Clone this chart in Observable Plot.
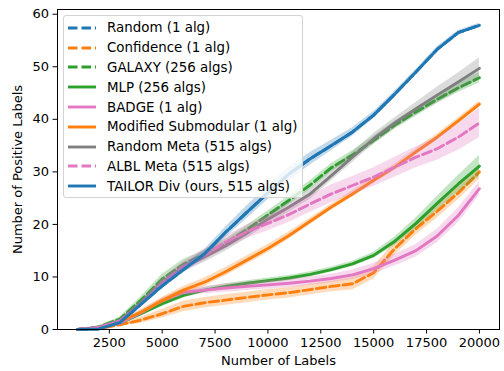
<!DOCTYPE html>
<html><head><meta charset="utf-8">
<script src="https://cdn.jsdelivr.net/npm/d3@7"></script>
<script src="https://cdn.jsdelivr.net/npm/@observablehq/plot@0.6"></script>
<style>
body{margin:0;background:#fff;font-family:"DejaVu Sans",sans-serif;}
#wrap{position:relative;width:504px;height:371px;}
#legend{position:absolute;left:63px;top:15px;width:240px;height:183px;box-sizing:border-box;border:1px solid #d3d3d3;border-radius:3px;background:rgba(255,255,255,0.8);font-size:13.4px;color:#000;}
.row{position:absolute;left:0;height:20px;display:flex;align-items:center;white-space:nowrap;}
.row svg{margin-left:4px;margin-right:11px;}
</style></head><body><div id="wrap"></div>
<script>
const labels = [1000,2000,3000,4000,5000,6000,7000,8000,9000,10000,11000,12000,13000,14000,15000,16000,17000,18000,19000,20000];
const xTicks = [2500,5000,7500,10000,12500,15000,17500,20000];
const yTicks = [0,10,20,30,40,50,60];

const tailor      = [0,0.1,1.3,4.8,8.3,11.4,14.4,18.5,22.3,26.0,29.6,32.5,35.0,37.6,40.8,44.8,49.0,53.3,56.5,57.9];
const tailorErr   = [0,0.1,0.3,0.5,0.6,0.7,0.8,1.0,1.2,1.3,1.3,1.2,1.0,0.8,0.7,0.6,0.5,0.5,0.4,0.4];
const randomAlg   = [0,0.1,1.3,4.8,8.3,11.4,14.4,18.5,22.3,26.0,29.6,32.5,35.0,37.6,40.8,44.8,49.0,53.3,56.5,57.9];
const randomErr   = [0,0,0,0,0,0,0,0,0,0,0,0,0,0,0,0,0,0,0,0];
const galaxy      = [0,0.5,2.0,5.6,9.6,12.4,14.3,16.4,19.0,21.8,24.6,27.5,30.8,33.2,36.0,38.9,41.4,43.8,46.0,47.9];
const galaxyErr   = [0,0.2,0.4,0.7,0.9,0.9,0.8,0.8,0.8,0.8,0.8,0.8,0.8,0.8,0.8,0.8,0.8,0.8,0.9,1.0];
const randMeta    = [0,0.4,1.6,5.0,9.0,11.8,13.8,15.9,18.3,21.0,23.3,25.8,29.3,32.8,36.3,39.3,42.0,44.6,47.1,49.7];
const randMetaErr = [0,0.1,0.3,0.6,0.8,0.9,1.0,1.0,1.0,1.0,1.0,1.0,1.0,1.0,1.0,1.0,1.2,1.5,1.7,2.0];
const albl        = [0,0.4,1.6,4.8,8.8,12.0,14.2,16.6,18.6,20.2,21.9,23.9,25.8,27.4,29.0,30.9,32.8,34.4,36.6,39.3];
const alblErr     = [0,0.2,0.4,0.6,0.8,1.0,1.1,1.2,1.3,1.4,1.5,1.6,1.7,1.7,1.8,1.9,2.0,2.2,2.5,2.8];
const modSub      = [0,0.3,1.5,3.3,5.5,7.5,9.0,11.0,13.2,15.4,17.9,20.6,23.3,25.8,28.4,30.9,33.8,36.6,39.7,42.9];
const modSubErr   = [0,0.1,0.3,0.5,0.6,0.7,0.8,0.8,0.8,0.8,0.7,0.6,0.6,0.6,0.6,0.6,0.6,0.6,0.6,0.6];
const mlp         = [0,0.3,1.2,3.0,4.9,6.5,7.5,8.2,8.8,9.3,9.8,10.5,11.4,12.5,14.1,16.8,20.2,24.0,27.7,31.1];
const mlpErr      = [0,0.1,0.2,0.4,0.5,0.5,0.5,0.5,0.5,0.5,0.5,0.5,0.5,0.5,0.6,0.8,1.0,1.3,1.6,2.0];
const badge       = [0,0.3,1.2,3.2,5.5,7.1,7.5,7.9,8.2,8.5,8.8,9.2,9.7,10.4,11.6,13.2,15.0,17.8,21.7,26.8];
const badgeErr    = [0,0.1,0.2,0.4,0.5,0.6,0.7,0.8,0.8,0.8,0.8,0.8,0.8,0.9,1.0,1.1,1.2,1.3,1.4,1.3];
const confidence  = [0,0.2,0.9,1.8,3.0,4.4,5.1,5.6,6.1,6.6,7.0,7.6,8.2,8.7,10.8,15.4,19.2,22.5,26.0,30.0];
const confErr     = [0,0.1,0.3,0.6,0.8,1.0,1.0,1.0,1.0,1.0,1.0,1.0,1.0,1.2,1.2,1.2,1.2,1.3,1.3,1.4];

const names  = ["Random (1 alg)","Confidence (1 alg)","GALAXY (256 algs)","MLP (256 algs)","BADGE (1 alg)","Modified Submodular (1 alg)","Random Meta (515 algs)","ALBL Meta (515 algs)","TAILOR Div (ours, 515 algs)"];
const colors = ["#1f77b4","#ff7f0e","#2ca02c","#2ca02c","#e377c2","#ff7f0e","#7f7f7f","#e377c2","#1f77b4"];
const dashed = [true,true,true,false,false,false,false,true,false];
const values = [randomAlg,confidence,galaxy,mlp,badge,modSub,randMeta,albl,tailor];
const errs   = [randomErr,confErr,galaxyErr,mlpErr,badgeErr,modSubErr,randMetaErr,alblErr,tailorErr];

const DASH = "9.5,4";
const LW = 2.9;
const marks = [];
names.forEach((name, k) => {
  const rows = labels.map((x, i) => ({x, y: values[k][i], lo: Math.max(0, values[k][i] - errs[k][i]), hi: values[k][i] + errs[k][i]}));
  if (errs[k].some(e => e > 0)) marks.push(Plot.areaY(rows, {x: "x", y1: "lo", y2: "hi", fill: colors[k], fillOpacity: 0.28}));
  marks.push(Plot.line(rows, {x: "x", y: "y", stroke: colors[k], strokeWidth: LW, strokeDasharray: dashed[k] ? DASH : null}));
});

const chart = Plot.plot({
  width: 504, height: 371,
  marginLeft: 57, marginRight: 5, marginTop: 9, marginBottom: 42,
  style: {fontFamily: "DejaVu Sans", fontSize: "13px", background: "#fff", color: "#000"},
  x: {domain: [50, 20950]},
  y: {domain: [0, 60.9]},
  marks: [
    ...marks,
    Plot.frame({stroke: "#000", strokeWidth: 1}),
    Plot.axisX({ticks: xTicks, tickFormat: d => String(d), tickSize: 4.5, tickPadding: 4, label: "Number of Labels", labelAnchor: "center", labelArrow: "none", labelOffset: 35}),
    Plot.axisY({ticks: yTicks, tickSize: 4.5, tickPadding: 4, label: "Number of Positive Labels", labelAnchor: "center", labelArrow: "none", labelOffset: 45})
  ]
});
const wrap = document.getElementById("wrap");
wrap.appendChild(chart);

const legend = document.createElement("div");
legend.id = "legend";
names.forEach((name, k) => {
  const row = document.createElement("div");
  row.className = "row";
  row.style.top = (1.8 + 19.8 * k) + "px";
  row.innerHTML = `<svg width="28" height="20"><line x1="0" y1="10" x2="28" y2="10" stroke="${colors[k]}" stroke-width="${LW}" ${dashed[k] ? `stroke-dasharray="${DASH}"` : ""}/></svg><span>${name}</span>`;
  legend.appendChild(row);
});
wrap.appendChild(legend);
</script>
</body></html>
